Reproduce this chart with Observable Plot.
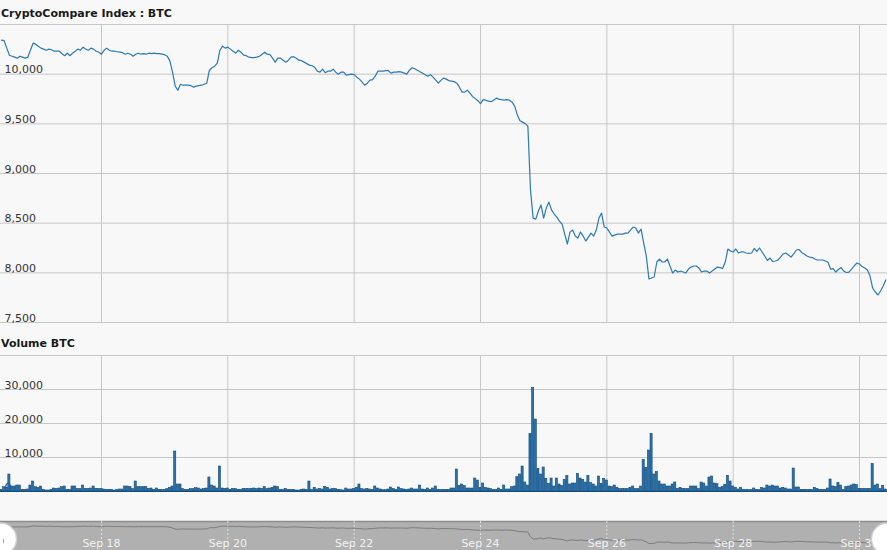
<!DOCTYPE html>
<html><head><meta charset="utf-8">
<script src="https://cdn.jsdelivr.net/npm/d3@7"></script>
<script src="https://cdn.jsdelivr.net/npm/@observablehq/plot@0.6"></script>
<style>
html,body{margin:0;padding:0;background:#f8f8f8;}
#chart{position:relative;width:887px;height:550px;overflow:hidden;background:#f8f8f8;font-family:"DejaVu Sans",Verdana,sans-serif;}
.ttl{position:absolute;left:1px;font-weight:bold;font-size:11px;line-height:13px;color:#1a1a1a;white-space:nowrap;}
.pane{position:absolute;left:0;}
.pane svg{display:block;overflow:hidden;}
</style></head>
<body>
<div id="chart">
  <div class="ttl" style="top:7px">CryptoCompare Index : BTC</div>
  <div class="pane" id="price" style="top:18px"></div>
  <div class="ttl" style="top:337px">Volume BTC</div>
  <div class="pane" id="volume" style="top:349px"></div>
  <div class="pane" id="nav" style="top:519px"></div>
</div>
<script>
// ---- data (hourly, UTC, starting 2019-09-16 10:00) ----
const startTime = "2019-09-16T10:00:00Z";
const price = [
10342,10337,10262,10191,10181,10171,10161,10181,10171,10161,10171,10241,10312,10302,10282,10262,10252,10241,10252,10246,
10231,10231,10231,10206,10186,10211,10186,10211,10231,10252,10241,10272,10252,10241,10262,10252,10231,10221,10201,10241,
10262,10241,10231,10231,10226,10221,10216,10201,10211,10201,10181,10201,10211,10201,10206,10201,10211,10206,10211,10206,
10206,10201,10196,10181,10131,10020,9879,9839,9899,9889,9889,9889,9884,9869,9879,9884,9889,9899,9909,10040,
10065,10080,10111,10241,10282,10262,10272,10252,10231,10211,10241,10221,10191,10186,10171,10166,10166,10171,10181,10201,
10221,10201,10196,10161,10121,10161,10161,10141,10121,10141,10171,10176,10161,10141,10136,10121,10106,10091,10085,10070,
10030,10020,10050,10015,10030,10030,10050,10020,10000,10020,10020,9990,9995,10000,9995,9970,9950,9920,9889,9909,
9940,9945,9980,10030,10030,10030,10035,10035,10010,10020,10020,10025,10020,10010,10000,10040,10065,10055,10040,10025,
10010,9995,9980,9995,9970,9940,9909,9940,9960,9950,9935,9930,9925,9909,9869,9819,9819,9839,9809,9774,
9754,9733,9703,9743,9738,9728,9723,9738,9759,9749,9743,9738,9743,9738,9718,9678,9588,9532,9517,9502,
9477,8833,8551,8541,8622,8682,8551,8652,8712,8632,8592,8561,8521,8491,8390,8290,8410,8431,8370,8350,
8410,8370,8320,8360,8400,8370,8431,8551,8602,8461,8451,8410,8370,8380,8390,8390,8390,8400,8400,8431,
8461,8451,8400,8441,8300,8169,7938,7948,7958,8109,8139,8109,8109,8139,8069,7998,8028,8008,8018,8008,
7998,8038,8058,8069,8069,8048,8008,8018,8018,7998,8018,8038,8058,8053,8043,8109,8240,8220,8210,8240,
8200,8210,8210,8200,8195,8200,8245,8215,8250,8210,8169,8124,8149,8114,8119,8129,8159,8190,8200,8180,
8159,8190,8230,8235,8205,8190,8169,8159,8154,8139,8129,8129,8129,8119,8109,8038,8043,8008,8033,8053,
8018,8003,8008,8038,8069,8099,8089,8063,8048,8028,7968,7847,7807,7777,7817,7867,7928
];
const volume = [
490,1270,1080,5000,1470,1470,1760,1760,490,490,590,1760,2940,1270,1080,1470,490,290,290,490,
880,780,880,1270,1470,490,490,1470,1470,690,690,1760,780,780,880,1470,780,780,690,590,
490,490,490,290,390,590,590,1470,1470,1270,690,2940,1270,1270,1270,1270,780,880,490,880,
490,490,490,690,1080,1470,11760,2060,2060,690,490,490,690,690,980,880,590,690,880,4120,
1760,1470,880,7350,880,780,880,490,780,690,490,490,780,690,690,780,880,690,880,780,
1270,690,880,1080,1470,1270,490,490,780,490,490,490,290,290,490,590,490,2940,490,1080,
590,780,590,1370,1080,590,780,780,490,390,290,880,590,590,690,1080,2060,690,590,780,
590,490,1470,880,590,390,390,590,1180,690,490,1180,690,590,490,590,880,590,590,1760,
590,490,880,490,880,1470,490,490,490,490,490,880,880,6470,1670,2060,1570,880,880,880,
3820,3230,1080,2350,1080,880,690,490,490,880,490,1760,590,590,1270,1470,4210,5000,7350,2650,
1760,16950,30480,21170,6660,5000,7060,3720,2250,3820,1470,3820,2060,1670,3430,4610,2060,2350,2350,5190,
3820,3430,2650,4610,2450,2060,1470,4410,2250,3720,3230,1470,1270,1760,1080,690,690,690,690,1080,
1470,690,690,1470,9310,6960,12050,16950,5000,5780,2940,2060,2060,1470,1470,2060,2650,780,1080,780,
690,690,1470,1470,1470,690,2650,2350,1470,4120,4410,2350,2160,1080,1270,1960,4610,2940,1470,1080,
590,1080,490,390,390,390,880,490,390,1080,880,1760,1470,1760,1470,1470,880,1080,880,590,
590,6760,1180,1180,490,490,490,490,490,1080,780,490,490,490,880,3530,1470,1270,2550,1760,
490,1270,1470,1760,2060,1860,780,780,780,690,780,8130,1760,2060,690,1670,590
];
const dateTicks = ["2019-09-18","2019-09-20","2019-09-22","2019-09-24","2019-09-26","2019-09-28","2019-09-30"];
const dateLabels = ["Sep 18","Sep 20","Sep 22","Sep 24","Sep 26","Sep 28","Sep 30"];
const priceGrid = [7500,8000,8500,9000,9500,10000,10500];
const priceLabels = [7500,8000,8500,9000,9500,10000];
const volGrid = [0,10000,20000,30000,40000];
const volLabels = [0,10000,20000,30000];

// ---- build ----
const t0 = Date.parse(startTime);
const HOUR = 3600e3, DAY = 864e5;
const rows = price.map((p, i) => ({t: new Date(t0 + i*HOUR), price: p, vol: volume[i]}));
const ticks = dateTicks.map(d => new Date(d + "T00:00:00Z"));
const pxPerDay = (859 - 101) / 12;
const xDomain = [new Date(+ticks[0] - 101/pxPerDay*DAY), new Date(+ticks[6] + 28/pxPerDay*DAY)];
const fmt = d3.format(",");
const FONT = '"DejaVu Sans",Verdana,sans-serif';
const GRID = "#c6c6c6";
const LINE = "#2d79b5";
const common = {width: 887, marginLeft: 0, marginRight: 0,
  style: {background: "transparent", fontFamily: FONT, fontSize: "11px", color: "#333", overflow: "hidden"}};

const pricePlot = Plot.plot({
  ...common, height: 310, marginTop: 6, marginBottom: 6,
  x: {type: "utc", domain: xDomain, axis: null},
  y: {domain: [7500, 10500], axis: null},
  marks: [
    Plot.ruleY(priceGrid, {stroke: GRID, strokeWidth: 1}),
    Plot.ruleX(ticks, {stroke: GRID, strokeWidth: 1}),
    Plot.text(priceLabels, {y: d => d, frameAnchor: "left", text: d => fmt(d), textAnchor: "start",
      lineAnchor: "bottom", dx: 4, dy: -1, fill: "#333", fontSize: 11}),
    Plot.line(rows, {x: "t", y: "price", stroke: LINE, strokeWidth: 1.2})
  ]
});
document.getElementById("price").append(pricePlot);

const volPlot = Plot.plot({
  ...common, height: 146, marginTop: 6, marginBottom: 4,
  x: {type: "utc", domain: xDomain, axis: null},
  y: {domain: [0, 40000], axis: null},
  marks: [
    Plot.ruleY(volGrid, {stroke: GRID, strokeWidth: 1}),
    Plot.ruleX(ticks, {stroke: GRID, strokeWidth: 1}),
    Plot.text(volLabels, {y: d => d, frameAnchor: "left", text: d => fmt(d), textAnchor: "start",
      lineAnchor: "bottom", dx: 4, dy: -1, fill: "#333", fontSize: 11}),
    Plot.rectY(rows, {x1: d => new Date(+d.t - HOUR/2), x2: d => new Date(+d.t + HOUR/2), y: "vol",
      fill: "#2a70aa", stroke: "#124c7c", strokeWidth: 0.6, insetLeft: 0.25, insetRight: 0.25}),
    Plot.ruleY([0], {stroke: "#124c7c", strokeWidth: 1.2})
  ]
});
document.getElementById("volume").append(volPlot);

const navPlot = Plot.plot({
  ...common, height: 31, marginTop: 2, marginBottom: 0,
  x: {type: "utc", domain: xDomain, axis: null},
  y: {domain: [7000, 10900], axis: null},
  marks: [
    Plot.frame({fill: "#b0b0b0", stroke: null}),
    Plot.ruleY([10900], {stroke: "#8c8c8c", strokeWidth: 1.5}),
    Plot.ruleX(ticks, {stroke: "#dedede", strokeDasharray: "2,2", strokeWidth: 1}),
    Plot.line(rows, {x: "t", y: "price", stroke: "#7c7c7c", strokeWidth: 1}),
    Plot.text(ticks, {x: d => d, text: (d, i) => dateLabels[i], frameAnchor: "middle", dy: 7,
      fill: "#f2f2f2", fontSize: 11}),
    Plot.dot([xDomain[0], xDomain[1]], {x: d => d, frameAnchor: "middle", dy: 3, r: 16, fill: "#ffffff", stroke: "#d0d0d0"}),
    Plot.ruleX([xDomain[0]], {dx: 3, y1: 8500, y2: 7900, stroke: "#aaaaaa", strokeWidth: 1})
  ]
});
document.getElementById("nav").append(navPlot);
</script>
</body></html>
